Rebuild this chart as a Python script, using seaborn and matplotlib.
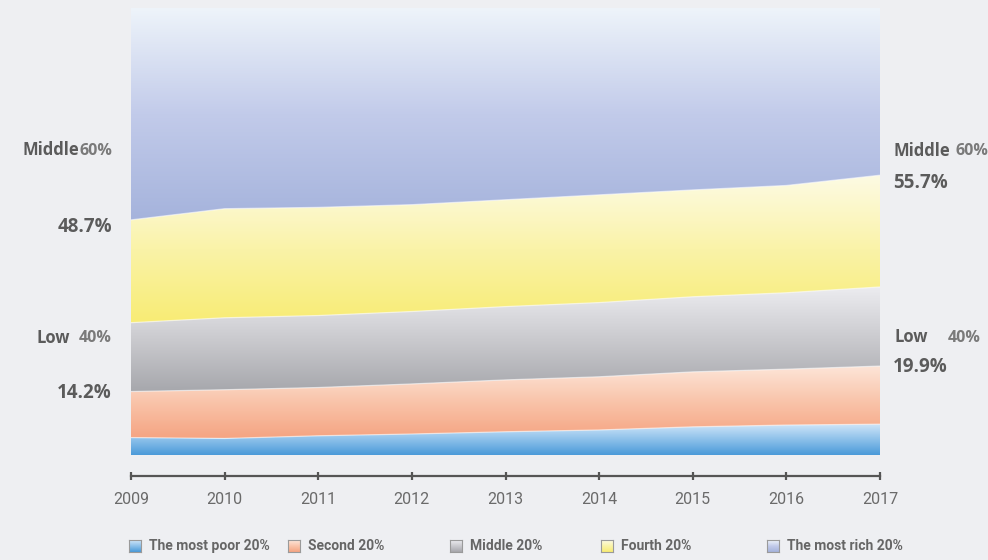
import numpy as np
import matplotlib
matplotlib.use("Agg")
import matplotlib.pyplot as plt
from matplotlib.colors import LinearSegmentedColormap
import seaborn as sns

# Income share by quintile, percent of total
years = [2009, 2010, 2011, 2012, 2013, 2014, 2015, 2016, 2017]
poor = [3.9, 3.7, 4.3, 4.7, 5.2, 5.6, 6.3, 6.7, 6.9]
second = [10.3, 10.9, 10.8, 11.2, 11.6, 11.9, 12.3, 12.5, 13.0]
middle = [15.4, 16.1, 16.1, 16.2, 16.4, 16.6, 16.8, 17.1, 17.7]
fourth = [23.0, 24.4, 24.2, 23.9, 23.9, 24.1, 23.9, 24.0, 25.0]
rich = [47.4, 44.9, 44.6, 44.0, 42.9, 41.8, 40.7, 39.7, 37.4]

series_names = ["The most poor 20%", "Second 20%", "Middle 20%",
                "Fourth 20%", "The most rich 20%"]

# vertical gradients (top colour -> bottom colour) for each band
band_colors = [
    ["#cfe5f8", "#8cc0ea", "#4a9ad9"],
    ["#fde6d9", "#f9c4aa", "#f5a482"],
    ["#ececf0", "#cacace", "#a6a7ac"],
    ["#fdfbe4", "#faf3a8", "#f8ec74"],
    ["#eef4fa", "#c2cbea", "#a5b3dc"],
]

sns.set_theme(style="white")
plt.rcParams["font.family"] = ["Open Sans", "DejaVu Sans"]
narrow = ["Roboto", "DejaVu Sans"]

W, H = 988, 560
fig = plt.figure(figsize=(W / 100, H / 100), dpi=100, facecolor="#eeeff2")

x0, x1, ytop, ybot = 131, 880, 8, 455
ax = fig.add_axes([x0 / W, 1 - ybot / H, (x1 - x0) / W, (ybot - ytop) / H])
ax.set_facecolor("none")

stacks = ax.stackplot(years, poor, second, middle, fourth, rich,
                      colors=["none"] * 5, linewidth=0)

data = np.vstack([poor, second, middle, fourth, rich])
cum = np.vstack([np.zeros(len(years)), np.cumsum(data, axis=0)])

for i, coll in enumerate(stacks):
    lo = cum[i].min()
    hi = cum[i + 1].max()
    cmap = LinearSegmentedColormap.from_list(f"band{i}", band_colors[i])
    grad = np.linspace(0, 1, 256).reshape(-1, 1)
    im = ax.imshow(grad, cmap=cmap, aspect="auto", origin="upper",
                   extent=[years[0], years[-1], lo, hi], zorder=1,
                   interpolation="bicubic")
    im.set_clip_path(coll.get_paths()[0], ax.transData)

# soft light seams between bands
bounds = {"year": [], "value": [], "edge": []}
for k in range(1, 5):
    for yr, v in zip(years, cum[k]):
        bounds["year"].append(yr)
        bounds["value"].append(v)
        bounds["edge"].append(k)
sns.lineplot(x=bounds["year"], y=bounds["value"], units=bounds["edge"],
             estimator=None, color="white", alpha=0.55, linewidth=0.9,
             ax=ax, zorder=2, legend=False)

ax.set_xlim(years[0], years[-1])
ax.set_ylim(0, 100)
ax.set_yticks([])
for side in ["left", "right", "top"]:
    ax.spines[side].set_visible(False)
ax.spines["bottom"].set_position(("outward", 15))
ax.spines["bottom"].set_color("#555555")
ax.spines["bottom"].set_linewidth(1.6)
ax.set_xticks(years)
ax.set_xticklabels([str(y) for y in years], fontsize=11.5, family=narrow,
                   color="#6a6a6a")
ax.tick_params(axis="x", bottom=True, direction="inout", length=6, width=1.6,
               color="#555555", pad=9)
ax.set_xlabel("")
ax.set_ylabel("")

# group labels beside the chart
lab_dark = "#5b5b5b"
lab_light = "#7a7a7a"
def ftext(x, y, s, **kw):
    fig.text(x / W, 1 - y / H, s, va="center", weight="bold", **kw)

low_2009 = poor[0] + second[0]
mid_2009 = second[0] + middle[0] + fourth[0]
low_2017 = poor[-1] + second[-1]
mid_2017 = second[-1] + middle[-1] + fourth[-1]

ftext(22, 150, "Middle", ha="left", fontsize=12, color=lab_dark)
ftext(112, 151, "60%", ha="right", fontsize=11.5, color=lab_light)
ftext(112, 227, f"{mid_2009:.1f}%", ha="right", fontsize=13.5, color=lab_dark)
ftext(36, 338, "Low", ha="left", fontsize=12, color=lab_dark)
ftext(112, 338, "40%", ha="right", fontsize=11.5, color=lab_light)
ftext(112, 393, f"{low_2009:.1f}%", ha="right", fontsize=13.5, color=lab_dark)

ftext(893, 151, "Middle", ha="left", fontsize=12, color=lab_dark)
ftext(955, 151, "60%", ha="left", fontsize=11.5, color=lab_light)
ftext(893, 183, f"{mid_2017:.1f}%", ha="left", fontsize=13.5, color=lab_dark)
ftext(894, 337, "Low", ha="left", fontsize=12, color=lab_dark)
ftext(948, 338, "40%", ha="left", fontsize=11.5, color=lab_light)
ftext(893, 367, f"{low_2017:.1f}%", ha="left", fontsize=13.5, color=lab_dark)

# legend row with small gradient swatches
legend_x = [129, 288, 450, 601, 767]
leg_y = 546
sw = 12
for i, (lx, name) in enumerate(zip(legend_x, series_names)):
    sax = fig.add_axes([lx / W, 1 - (leg_y + sw / 2) / H, sw / W, sw / H])
    cmap = LinearSegmentedColormap.from_list(f"sw{i}", band_colors[i])
    sax.imshow(np.linspace(0, 1, 32).reshape(-1, 1), cmap=cmap, aspect="auto")
    sax.set_xticks([])
    sax.set_yticks([])
    for sp in sax.spines.values():
        sp.set_color("#9a9a9a")
        sp.set_linewidth(0.8)
    fig.text((lx + sw + 8) / W, 1 - leg_y / H, name, va="center", ha="left",
             fontsize=10, weight="bold", color="#666666", family=narrow)

fig.savefig("out.png", dpi=100, facecolor=fig.get_facecolor())
